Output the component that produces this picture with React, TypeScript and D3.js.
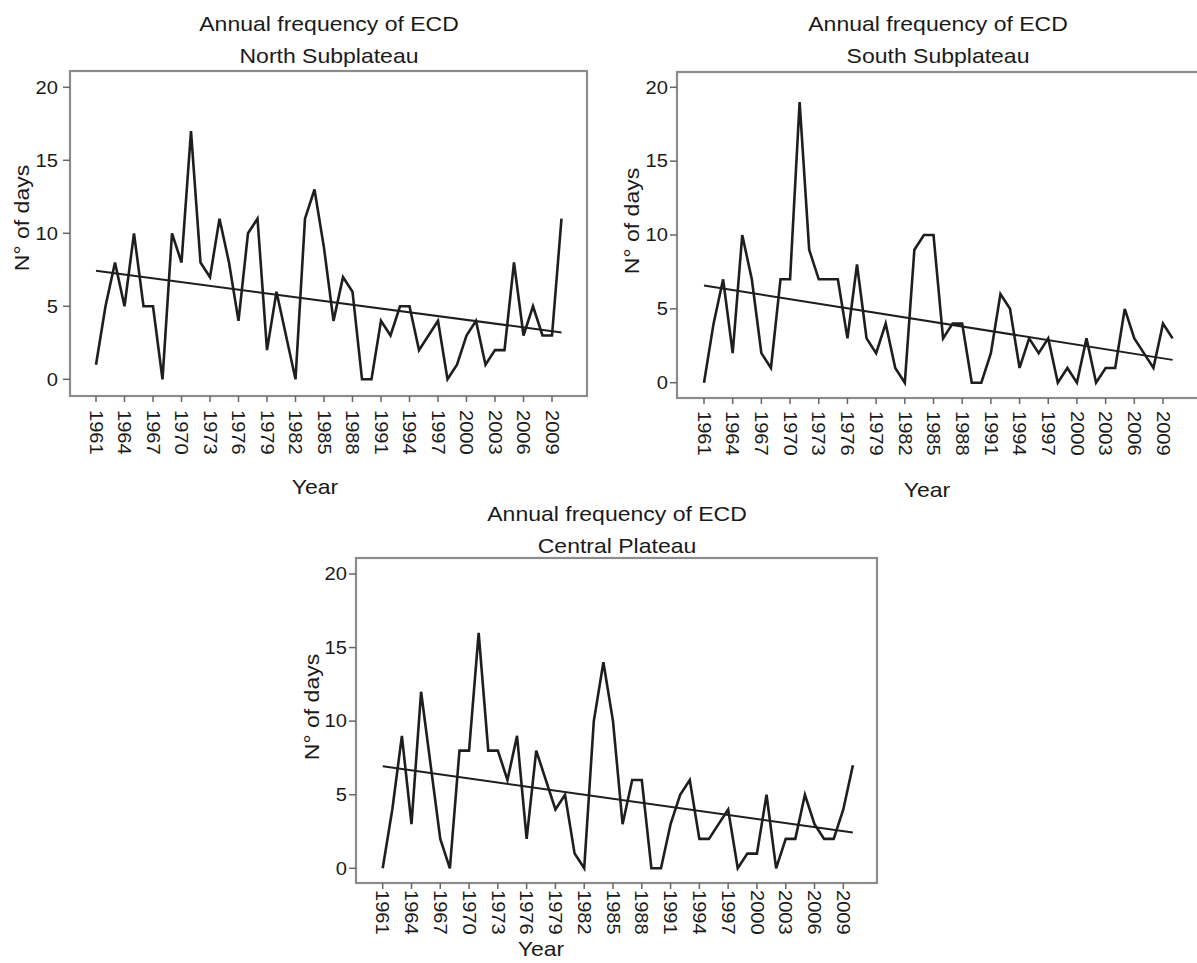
import React from 'react';
import * as d3 from 'd3';

// years on the x axis
const years = d3.range(1961, 2011);
const yearTicks = [1961, 1964, 1967, 1970, 1973, 1976, 1979, 1982, 1985, 1988, 1991, 1994, 1997, 2000, 2003, 2006, 2009];
const dayTicks = [0, 5, 10, 15, 20];

// N° of days per year
const northValues = [
  1, 5, 8, 5, 10, 5, 5, 0, 10, 8,
  17, 8, 7, 11, 8, 4, 10, 11, 2, 6,
  3, 0, 11, 13, 9, 4, 7, 6, 0, 0,
  4, 3, 5, 5, 2, 3, 4, 0, 1, 3,
  4, 1, 2, 2, 8, 3, 5, 3, 3, 11,
];
const southValues = [
  0, 4, 7, 2, 10, 7, 2, 1, 7, 7,
  19, 9, 7, 7, 7, 3, 8, 3, 2, 4,
  1, 0, 9, 10, 10, 3, 4, 4, 0, 0,
  2, 6, 5, 1, 3, 2, 3, 0, 1, 0,
  3, 0, 1, 1, 5, 3, 2, 1, 4, 3,
];
const centralValues = [
  0, 4, 9, 3, 12, 7, 2, 0, 8, 8,
  16, 8, 8, 6, 9, 2, 8, 6, 4, 5,
  1, 0, 10, 14, 10, 3, 6, 6, 0, 0,
  3, 5, 6, 2, 2, 3, 4, 0, 1, 1,
  5, 0, 2, 2, 5, 3, 2, 2, 4, 7,
];

const titleLine = 'Annual frequency of ECD';
const regionNames = ['North Subplateau', 'South Subplateau', 'Central Plateau'];

const FONT = '"Liberation Sans", Arial, sans-serif';
const SX = 1.15; // the figure's lettering is a bit wide

// layout of each panel (pixels)
const panels = [
  {
    values: northValues, name: regionNames[0],
    left: 70, right: 587, top: 71, bottom: 396,
    x0: 96, x1: 552, y0: 379.3, y20: 87.3,
    tickGap: 12, xLabOff: 14,
    titleX: 329, titleY: 31,
    yTitle: [22, 218], xTitle: [315, 494],
  },
  {
    values: southValues, name: regionNames[1],
    left: 677, right: 1210, top: 72, bottom: 398,
    x0: 704, x1: 1163, y0: 382.7, y20: 87.3,
    tickGap: 9, xLabOff: 13,
    titleX: 938, titleY: 31,
    yTitle: [632, 221], xTitle: [927, 497],
  },
  {
    values: centralValues, name: regionNames[2],
    left: 356, right: 877, top: 558, bottom: 883,
    x0: 382.7, x1: 843.3, y0: 868.3, y20: 574,
    tickGap: 9, xLabOff: 7,
    titleX: 617, titleY: 521,
    yTitle: [312, 707], xTitle: [541, 956],
  },
];

type Cfg = typeof panels[number];

const Panel = ({ p }: { p: Cfg }) => {
  const x = d3.scaleLinear().domain([1961, 2009]).range([p.x0, p.x1]);
  const y = d3.scaleLinear().domain([0, 20]).range([p.y0, p.y20]);
  const pts = years.map((yr, i) => [yr, p.values[i]] as [number, number]);
  const line = d3.line<[number, number]>().x(d => x(d[0])).y(d => y(d[1]));

  // least squares trend
  const mx = d3.mean(pts, d => d[0])!;
  const my = d3.mean(pts, d => d[1])!;
  const slope = d3.sum(pts, d => (d[0] - mx) * (d[1] - my)) / d3.sum(pts, d => (d[0] - mx) ** 2);
  const trend: [number, number][] = [years[0], years[years.length - 1]].map(yr => [yr, my + slope * (yr - mx)]);

  return (
    <g fontFamily={FONT} fill="#1a1a1a">
      <text transform={`translate(${p.titleX},${p.titleY}) scale(${SX},1)`} textAnchor="middle" fontSize={20}>{titleLine}</text>
      <text transform={`translate(${p.titleX},${p.titleY + 32}) scale(${SX},1)`} textAnchor="middle" fontSize={20}>{p.name}</text>

      <rect x={p.left} y={p.top} width={p.right - p.left} height={p.bottom - p.top} fill="none" stroke="#8c8c8c" strokeWidth={2.2} />

      {dayTicks.map(t => (
        <g key={t}>
          <line x1={p.left - 7} x2={p.left} y1={y(t)} y2={y(t)} stroke="#666" strokeWidth={1.5} />
          <text transform={`translate(${p.left - p.tickGap},${y(t)}) scale(${SX},1)`} dy="0.36em" textAnchor="end" fontSize={17.5}>{t}</text>
        </g>
      ))}
      {yearTicks.map(t => (
        <g key={t}>
          <line x1={x(t)} x2={x(t)} y1={p.bottom} y2={p.bottom + 6} stroke="#666" strokeWidth={1.5} />
          <text transform={`translate(${x(t)},${p.bottom + p.xLabOff}) rotate(90) scale(${SX},1)`} dy="0.36em" fontSize={17.5}>{t}</text>
        </g>
      ))}

      <text transform={`translate(${p.yTitle[0]},${p.yTitle[1]}) rotate(-90) scale(${SX},1)`} dy="0.36em" textAnchor="middle" fontSize={20}>N° of days</text>
      <text transform={`translate(${p.xTitle[0]},${p.xTitle[1]}) scale(${SX},1)`} textAnchor="middle" fontSize={20}>Year</text>

      <path d={line(trend)!} fill="none" stroke="#1e1e1e" strokeWidth={2} />
      <path d={line(pts)!} fill="none" stroke="#1e1e1e" strokeWidth={2.6} strokeLinejoin="miter" />
    </g>
  );
};

const App = () => (
  <svg width={1197} height={963} style={{ position: 'absolute', left: 0, top: 0, background: '#fff' }}>
    <rect width={1197} height={963} fill="#fff" />
    {panels.map(p => <Panel key={p.name} p={p} />)}
  </svg>
);

export default App;
